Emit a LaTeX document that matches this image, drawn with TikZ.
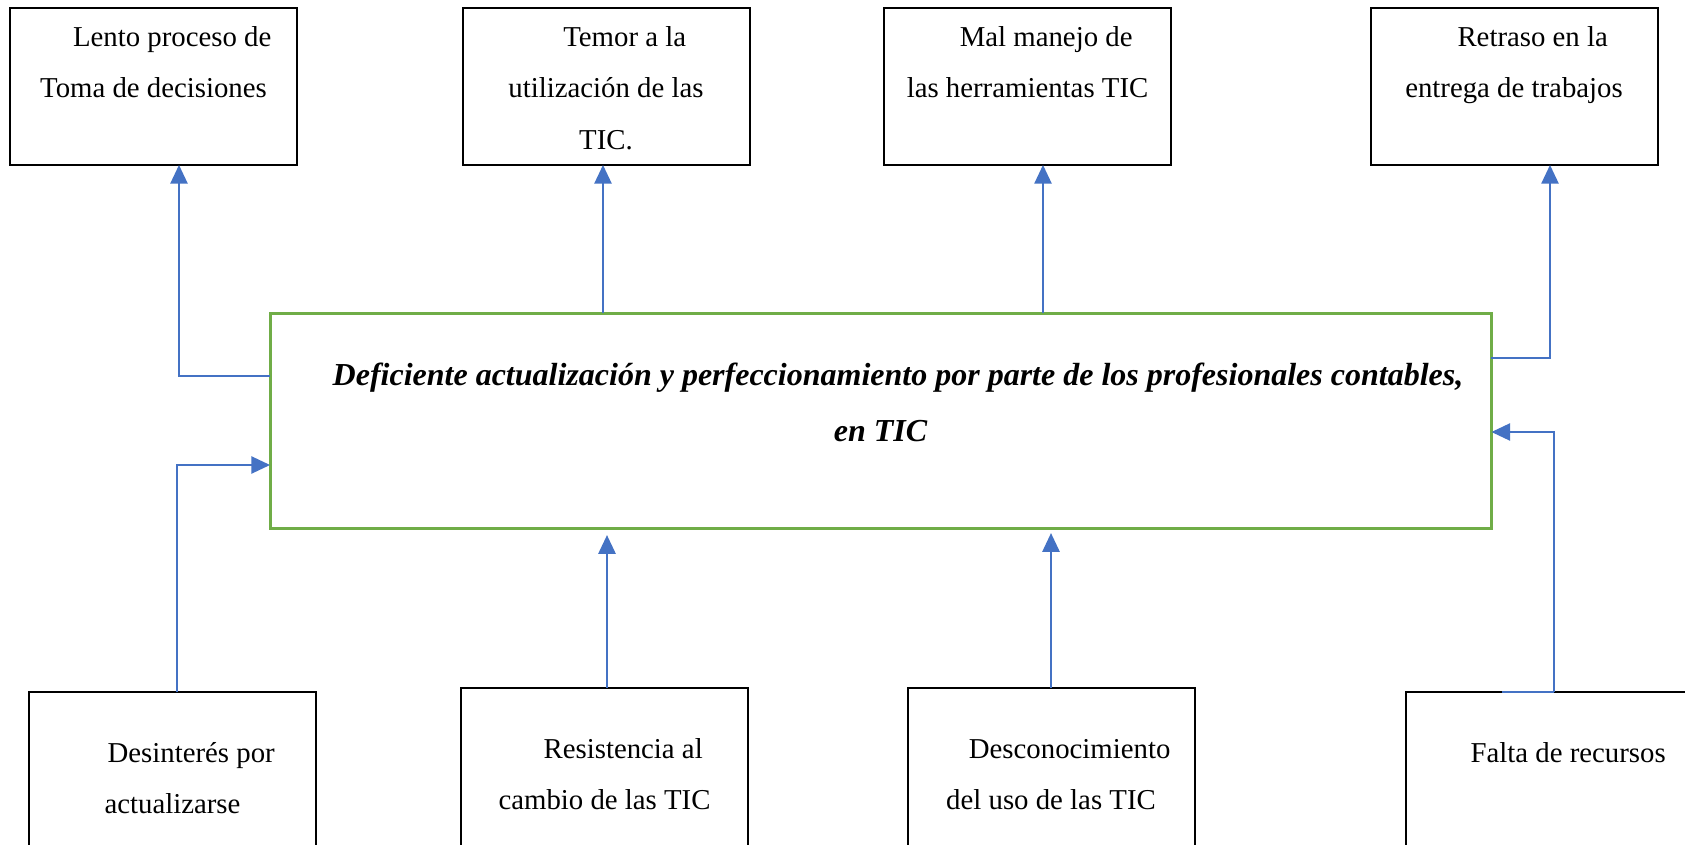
\documentclass[tikz,border=0pt]{standalone}
\usepackage{fontspec}
\setmainfont{Liberation Serif}
\usetikzlibrary{arrows.meta}
\definecolor{arrblue}{HTML}{4472C4}
\definecolor{boxgreen}{HTML}{70AD47}
\begin{document}
\begin{tikzpicture}[x=0.75pt,y=-0.75pt,
  box/.style={draw=black, line width=1pt, rectangle, inner sep=0pt, outer sep=0pt, anchor=north west,
    minimum width=215.25pt},
  topbox/.style={box, minimum height=117.75pt},
  botbox/.style={box, minimum height=150pt},
  mainbox/.style={draw=boxgreen, line width=2.25pt, rectangle, inner sep=0pt, outer sep=0pt, anchor=north west,
    minimum width=916.1pt, minimum height=161.6pt},
  txt/.style={font=\fontsize{21.6pt}{38.6pt}\selectfont, align=center, inner sep=0pt, anchor=north},
  maintxt/.style={font=\fontsize{24pt}{42pt}\selectfont\bfseries\itshape, align=center, inner sep=0pt, anchor=north},
  arr/.style={draw=arrblue, line width=1pt, -{Triangle[length=14pt,width=13pt]}},
  lin/.style={draw=arrblue, line width=1pt}
]
\clip (0,0) rectangle (1685,845);
\fill[white] (0,0) rectangle (1685,845);

% top boxes
\node[topbox] (t1) at (10,8) {};
\node[topbox] (t2) at (463,8) {};
\node[topbox] (t3) at (884,8) {};
\node[topbox] (t4) at (1371,8) {};
\node[txt] (t1l) at (153.5,10) {\hspace*{28pt}Lento proceso de\strut\\Toma de decisiones\strut};
\node[txt] (t2l) at (606,10) {\hspace*{28pt}Temor a la\strut\\utilización de las\strut\\TIC.\strut};
\node[txt] (t3l) at (1027.5,10) {\hspace*{28pt}Mal manejo de\strut\\las herramientas TIC\strut};
\node[txt] (t4l) at (1514,10) {\hspace*{28pt}Retraso en la\strut\\entrega de trabajos\strut};

% main box
\node[mainbox] (g) at (270,313) {};
\node[maintxt] (gl) at (880.5,346) {\hspace*{26.25pt}Deficiente actualización y perfeccionamiento por parte de los profesionales contables,\strut\\en TIC\strut};

% bottom boxes
\node[botbox] (b1) at (29,692) {};
\node[botbox] (b2) at (461,688) {};
\node[botbox] (b3) at (908,688) {};
\node[botbox] (b4) at (1406,692) {};
\node[txt] (b1l) at (172.5,726) {\hspace*{28pt}Desinterés por\strut\\actualizarse\strut};
\node[txt] (b2l) at (604.5,722) {\hspace*{28pt}Resistencia al\strut\\cambio de las TIC\strut};
\node[txt] (b3l) at (1051,722) {\hspace*{28pt}Desconocimiento\strut\\del uso de las TIC\strut};
\node[txt] (b4l) at (1549.5,726) {\hspace*{28pt}Falta de recursos\strut};

% connectors: effects
\draw[arr] (g.west |- 0,376) -| (t1.south -| 179,0);
\draw[arr] (g.north -| 603,0) -- (t2.south -| 603,0);
\draw[arr] (g.north -| 1043,0) -- (t3.south -| 1043,0);
\draw[arr] (g.east |- 0,358) -| (t4.south -| 1550,0);

% connectors: causes
\draw[arr] (b1.north -| 177,0) |- (g.west |- 0,465);
\draw[arr, shorten >=5pt] (b2.north -| 607,0) -- (g.south -| 607,0);
\draw[arr, shorten >=3.5pt] (b3.north -| 1051,0) -- (g.south -| 1051,0);
\draw[lin] (b4.north -| 1502,0) -- (b4.north -| 1554,0);
\draw[arr] (b4.north -| 1554,0) |- (g.east |- 0,432);
\end{tikzpicture}
\end{document}
